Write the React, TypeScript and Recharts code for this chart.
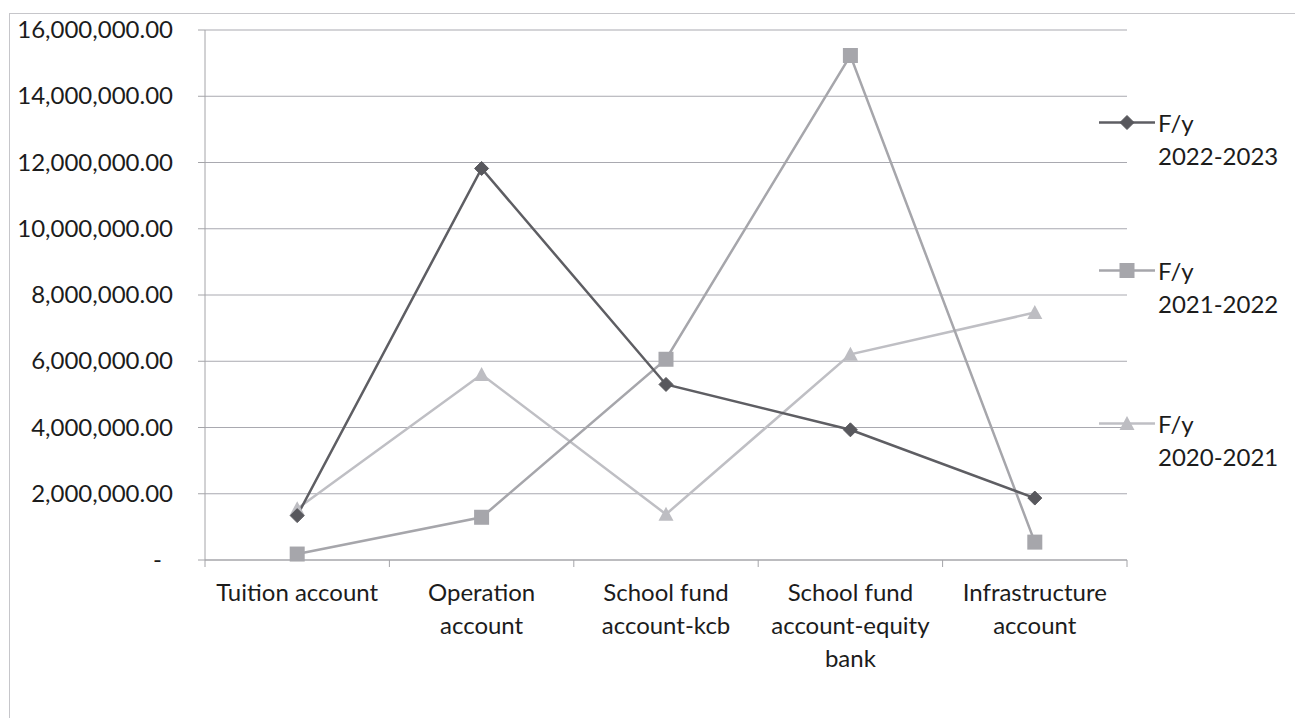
import React from 'react';
import { LineChart, Line, XAxis, YAxis, CartesianGrid, Legend } from 'recharts';

// Account categories along the x axis
const categories = [
  'Tuition account',
  'Operation account',
  'School fund account-kcb',
  'School fund account-equity bank',
  'Infrastructure account',
];

// Balances per financial year
const fy2022_2023 = [1340000, 11820000, 5300000, 3930000, 1870000];
const fy2021_2022 = [180000, 1290000, 6060000, 15230000, 540000];
const fy2020_2021 = [1550000, 5600000, 1380000, 6210000, 7470000];

const seriesNames = ['F/y 2022-2023', 'F/y 2021-2022', 'F/y 2020-2021'];
const yTicks = [0, 2000000, 4000000, 6000000, 8000000, 10000000, 12000000, 14000000, 16000000];

const data = categories.map((name, i) => ({
  name,
  s1: fy2022_2023[i],
  s2: fy2021_2022[i],
  s3: fy2020_2021[i],
}));

// Layout
const W = 1295;
const H = 718;
const MARGIN = { top: 30, right: 168, bottom: 58, left: 0 };
const Y_AXIS_W = 205;
const X_AXIS_H = 100;
const PLOT_LEFT = MARGIN.left + Y_AXIS_W;
const PLOT_RIGHT = W - MARGIN.right;
const PLOT_BOTTOM = H - MARGIN.bottom - X_AXIS_H;
const BAND = (PLOT_RIGHT - PLOT_LEFT) / categories.length;

const FONT = 'Lato, "Open Sans", sans-serif';
const FONT_SIZE = 24;
const TEXT_COLOR = '#1c1c1c';
const AXIS_COLOR = '#a4a4a8';
const GRID_COLOR = '#a9a9b0';

const COLORS = {
  s1: { line: '#5e5e63', marker: '#58585d' },
  s2: { line: '#a6a6ab', marker: '#a6a6ab' },
  s3: { line: '#bfbfc4', marker: '#bdbdc2' },
};

type Shape = 'diamond' | 'square' | 'triangle';

// Word-wrap a label to a pixel width using canvas text metrics
let measureCtx: CanvasRenderingContext2D | null = null;
const textWidth = (s: string) => {
  if (!measureCtx && typeof document !== 'undefined') {
    measureCtx = document.createElement('canvas').getContext('2d');
  }
  if (!measureCtx) return s.length * FONT_SIZE * 0.5;
  measureCtx.font = `${FONT_SIZE}px ${FONT}`;
  return measureCtx.measureText(s).width;
};
const wrapLabel = (label: string, maxW: number) => {
  const words = label.split(' ');
  const lines: string[] = [];
  let cur = '';
  words.forEach((w) => {
    const next = cur ? `${cur} ${w}` : w;
    if (cur && textWidth(next) > maxW) {
      lines.push(cur);
      cur = w;
    } else {
      cur = next;
    }
  });
  if (cur) lines.push(cur);
  return lines;
};

const Marker = ({ cx, cy, shape, color }: { cx: number; cy: number; shape: Shape; color: string }) => {
  if (cx == null || cy == null) return null;
  if (shape === 'diamond') {
    const r = 7;
    return <polygon points={`${cx},${cy - r} ${cx + r},${cy} ${cx},${cy + r} ${cx - r},${cy}`} fill={color} stroke={color} strokeWidth={1} />;
  }
  if (shape === 'square') {
    const s = 15;
    return <rect x={cx - s / 2} y={cy - s / 2} width={s} height={s} fill={color} />;
  }
  const h = 13;
  const w = 15;
  return <polygon points={`${cx},${cy - h / 2 - 1} ${cx + w / 2},${cy + h / 2} ${cx - w / 2},${cy + h / 2}`} fill={color} />;
};

const makeDot = (shape: Shape, color: string) => (props: any) => (
  <Marker key={`${shape}-${props.index}`} cx={props.cx} cy={props.cy} shape={shape} color={color} />
);

const fmt = (v: number) =>
  v.toLocaleString('en-US', { minimumFractionDigits: 2, maximumFractionDigits: 2 });

const YTick = (props: any) => {
  const { x, y, payload } = props;
  const isZero = payload.value === 0;
  return (
    <text
      x={isZero ? x - 11 : x}
      y={y}
      dy={8}
      textAnchor="end"
      fontFamily={FONT}
      fontSize={FONT_SIZE}
      fill={TEXT_COLOR}
    >
      {isZero ? '-' : fmt(payload.value)}
    </text>
  );
};

const XTick = (props: any) => {
  const { x, payload, index } = props;
  const half = BAND / 2;
  const last = index === categories.length - 1;
  const lines = wrapLabel(String(payload.value), BAND - 6);
  return (
    <g>
      <line x1={x - half} x2={x - half} y1={PLOT_BOTTOM} y2={PLOT_BOTTOM + 7} stroke={AXIS_COLOR} strokeWidth={1} />
      {last && (
        <line x1={x + half} x2={x + half} y1={PLOT_BOTTOM} y2={PLOT_BOTTOM + 7} stroke={AXIS_COLOR} strokeWidth={1} />
      )}
      <text
        x={x}
        y={PLOT_BOTTOM + 41}
        textAnchor="middle"
        fontFamily={FONT}
        fontSize={FONT_SIZE}
        fill={TEXT_COLOR}
      >
        {lines.map((l, i) => (
          <tspan key={i} x={x} dy={i === 0 ? 0 : 33}>
            {l}
          </tspan>
        ))}
      </text>
    </g>
  );
};

const legendItems: { key: 's1' | 's2' | 's3'; name: string; shape: Shape; top: number }[] = [
  { key: 's1', name: seriesNames[0], shape: 'diamond', top: 0 },
  { key: 's2', name: seriesNames[1], shape: 'square', top: 148 },
  { key: 's3', name: seriesNames[2], shape: 'triangle', top: 301 },
];

const LegendContent = () => (
  <div style={{ position: 'relative', width: 200, height: 380 }}>
    {legendItems.map((it) => {
      const sp = it.name.indexOf(' ');
      const lines = [it.name.slice(0, sp), it.name.slice(sp + 1)];
      return (
        <div key={it.key} style={{ position: 'absolute', left: 0, top: it.top, display: 'flex', alignItems: 'flex-start' }}>
          <svg width={56} height={33} style={{ display: 'block' }}>
            <line x1={0} x2={56} y1={16.5} y2={16.5} stroke={COLORS[it.key].line} strokeWidth={2.5} />
            <Marker cx={28} cy={16.5} shape={it.shape} color={COLORS[it.key].marker} />
          </svg>
          <div
            style={{
              marginLeft: 3,
              lineHeight: '33px',
              fontFamily: FONT,
              fontSize: FONT_SIZE,
              color: TEXT_COLOR,
              whiteSpace: 'nowrap',
            }}
          >
            {lines.map((l) => (
              <div key={l}>{l}</div>
            ))}
          </div>
        </div>
      );
    })}
  </div>
);

export default function App() {
  return (
    <div style={{ position: 'fixed', left: 0, top: 0, width: W, height: H, overflow: 'hidden', background: '#fff' }}>
      <div
        style={{
          position: 'absolute',
          left: 9,
          top: 13,
          width: 1400,
          height: 800,
          border: '1px solid #c6c6ca',
          boxSizing: 'border-box',
        }}
      />
      <div style={{ position: 'absolute', left: 0, top: 0 }}>
        <LineChart width={W} height={H} data={data} margin={MARGIN}>
          <CartesianGrid vertical={false} stroke={GRID_COLOR} strokeWidth={1} />
          <XAxis
            dataKey="name"
            height={X_AXIS_H}
            interval={0}
            padding={{ left: BAND / 2, right: BAND / 2 }}
            tickLine={false}
            axisLine={{ stroke: AXIS_COLOR, strokeWidth: 1 }}
            tick={<XTick />}
          />
          <YAxis
            width={Y_AXIS_W}
            domain={[0, 16000000]}
            ticks={yTicks}
            interval={0}
            tickSize={7}
            tickMargin={25}
            tickLine={{ stroke: AXIS_COLOR, strokeWidth: 1 }}
            axisLine={{ stroke: AXIS_COLOR, strokeWidth: 1 }}
            tick={<YTick />}
          />
          <Legend
            layout="vertical"
            align="center"
            verticalAlign="middle"
            wrapperStyle={{ left: 1099, top: 106, width: 200 }}
            content={<LegendContent />}
          />
          <Line
            type="linear"
            dataKey="s3"
            name={seriesNames[2]}
            stroke={COLORS.s3.line}
            strokeWidth={2.5}
            dot={makeDot('triangle', COLORS.s3.marker)}
            activeDot={false}
            isAnimationActive={false}
          />
          <Line
            type="linear"
            dataKey="s2"
            name={seriesNames[1]}
            stroke={COLORS.s2.line}
            strokeWidth={2.5}
            dot={makeDot('square', COLORS.s2.marker)}
            activeDot={false}
            isAnimationActive={false}
          />
          <Line
            type="linear"
            dataKey="s1"
            name={seriesNames[0]}
            stroke={COLORS.s1.line}
            strokeWidth={2.5}
            dot={makeDot('diamond', COLORS.s1.marker)}
            activeDot={false}
            isAnimationActive={false}
          />
        </LineChart>
      </div>
    </div>
  );
}
